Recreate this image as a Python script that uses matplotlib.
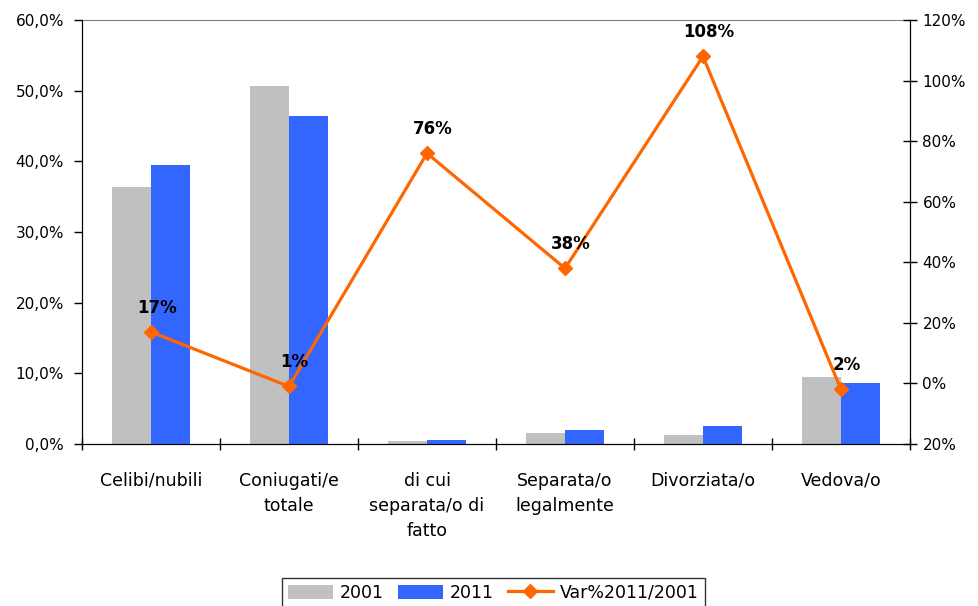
import numpy as np
from matplotlib import pyplot as plt
from matplotlib.ticker import FuncFormatter

categories = ['Celibi/nubili', 'Coniugati/e\ntotale', 'di cui\nseparata/o di\nfatto',
              'Separata/o\nlegalmente', 'Divorziata/o', 'Vedova/o']
share_2001 = [36.4, 50.7, 0.4, 1.6, 1.3, 9.5]
share_2011 = [39.5, 46.4, 0.6, 2.0, 2.6, 8.6]
var_pct = [17, -1, 76, 38, 108, -2]

plt.rcParams['font.family'] = 'DejaVu Sans'

fig = plt.figure(figsize=(9.79, 6.06), dpi=100)
ax = fig.add_axes([0.0838, 0.2673, 0.8457, 0.6997])
x = np.arange(len(categories))
w = 0.285

b1 = ax.bar(x - w/2, share_2001, w, color='#C0C0C0', label='2001')
b2 = ax.bar(x + w/2, share_2011, w, color='#3366FF', label='2011')

ax.set_xlim(-0.5, len(categories) - 0.5)
ax.set_ylim(0, 60)
ax.set_yticks(np.arange(0, 61, 10))
ax.yaxis.set_major_formatter(FuncFormatter(lambda v, p: f"{v:.1f}%".replace('.', ',')))
ax.tick_params(axis='y', direction='out', length=6, width=1, labelsize=11, pad=7)

ax.set_xticks(x)
ax.set_xticklabels(categories, fontsize=12.5, linespacing=1.5, va='top')
ax.tick_params(axis='x', which='major', length=0, pad=20)
ax.set_xticks(np.arange(-0.5, len(categories), 1), minor=True)
ax.tick_params(axis='x', which='minor', direction='inout', length=9, width=1)

for s in ['left', 'bottom', 'right']:
    ax.spines[s].set_color('black')
ax.spines['top'].set_color('#808080')

ax2 = ax.twinx()
ln, = ax2.plot(x, var_pct, color='#FF6600', lw=2.3, marker='D', markersize=7,
               label='Var%2011/2001')
ax2.set_ylim(-20, 120)
ax2.set_yticks(np.arange(-20, 121, 20))
ax2.yaxis.set_major_formatter(FuncFormatter(lambda v, p: f"{abs(v):.0f}%"))
ax2.tick_params(axis='y', direction='inout', length=10, width=1, labelsize=11, pad=4)
ax2.spines['top'].set_visible(False)

for xi, v in zip(x, var_pct):
    ax2.annotate(f"{abs(v):.0f}%", (xi, v), xytext=(4, 11), textcoords='offset points',
                 ha='center', va='bottom', fontsize=12, fontweight='bold')

leg = fig.legend(handles=[b1, b2, ln], loc='upper center', bbox_to_anchor=(0.504, 0.061),
                 ncol=3, fontsize=12.5, frameon=True, fancybox=False, edgecolor='black',
                 handlelength=2.6, handleheight=0.9, columnspacing=0.8, handletextpad=0.4,
                 borderpad=0.35)
leg.get_frame().set_linewidth(1)

fig.savefig('out.png', dpi=100)
